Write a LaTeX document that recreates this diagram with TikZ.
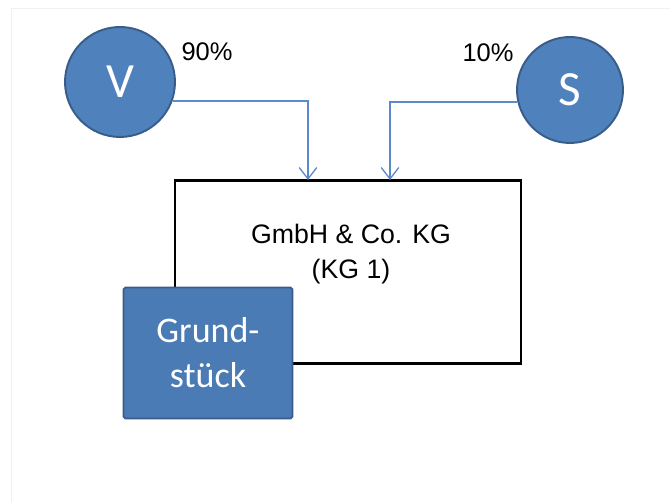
\documentclass[tikz,border=0pt]{standalone}
\usepackage{fontspec}
\setmainfont{Liberation Sans}
\newfontfamily\calibri{Carlito}
\usetikzlibrary{arrows.meta}
\definecolor{ppblue}{HTML}{4F81BD}
\definecolor{ppdark}{HTML}{385D8A}
\definecolor{pparrow}{HTML}{5B8ACB}

\begin{document}
\begin{tikzpicture} [
        x=0.02cm, y=-0.02cm,
        partner/.style={circle, draw=ppdark, line width=1.1pt, fill=ppblue,
            minimum size=2.2cm, inner sep=0pt, text=white, font=\calibri\fontsize{28}{32}\selectfont},
        company/.style={draw=black, rectangle, line width=1.4pt, minimum width=6.92cm, minimum height=3.66cm},
        asset/.style={draw=ppdark, rectangle, rounded corners=1pt, line width=1pt, fill=ppblue!95!black,
            minimum width=3.38cm, minimum height=2.62cm, text=white, align=center,
            font=\calibri\fontsize{20.5}{25.5}\selectfont},
        share/.style={font=\fontsize{14.5}{17}\selectfont},
        flow/.style={draw=pparrow, line width=0.75pt, -{Straight Barb[length=6.5pt, width=10pt]}} ]
    \useasboundingbox (0,0) rectangle (670,502);
    \draw[gray!12] (11,502) |- (670,8);

    \node[partner] (V) at (120,82) {V};
    \node[partner, minimum size=2.12cm] (S) at (570,90) {S};
    \node[share] (pV) at (207,52) {90\%};
    \node[share] (pS) at (488,53) {10\%};

    \node[company] (kg) at (348,272) {};
    \node[align=center, font=\fontsize{15.2}{19.5}\selectfont] (kgtext) at (351,254) {GmbH \& Co. KG\\(KG 1)};
    \node[asset] (gs) at (208,353) {Grund-\\stück};

    \coordinate (inV) at (308,180);
    \coordinate (inS) at (390,180);
    \draw[flow] (V.-20) -| (inV);
    \draw[flow] (S.-167) -| (inS);
\end{tikzpicture}
\end{document}
